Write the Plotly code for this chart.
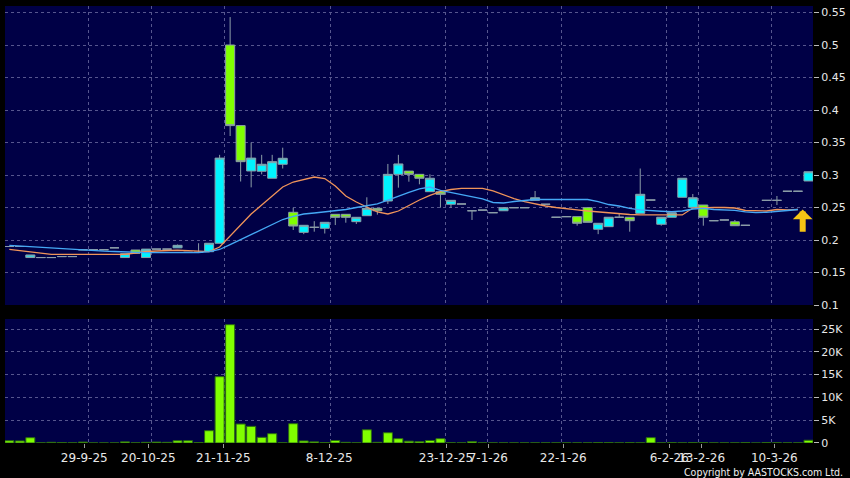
import plotly.graph_objects as go

# ---------------- data ----------------
bar_idx = list(range(77))

opens = [0.190, 0.190, 0.173, 0.173, 0.173, 0.1745, 0.1745, 0.185, 0.185, 0.185,
         0.188, 0.173, 0.1846, 0.173, 0.186, 0.186, 0.188, 0.181, 0.181, 0.182,
         0.195, 0.500, 0.376, 0.3062, 0.3057, 0.295, 0.3165, 0.2426, 0.2118, 0.2195,
         0.218, 0.2395, 0.2395, 0.2282, 0.2374, 0.2487, 0.260, 0.301, 0.306, 0.301,
         0.2743, 0.2743, 0.255, 0.2554, 0.245, 0.246, 0.242, 0.245, 0.2497, 0.2497,
         0.261, 0.255, 0.235, 0.2359, 0.2359, 0.2497, 0.2165, 0.2205, 0.235, 0.235,
         0.241, 0.2615, 0.2242, 0.235, 0.2657, 0.2503, 0.2538, 0.2297, 0.2308, 0.228,
         0.2226, None, 0.261, 0.261, 0.275, 0.275, 0.2908]
highs = [0.190, 0.190, 0.177, 0.173, 0.173, 0.1745, 0.1745, 0.185, 0.185, 0.185,
         0.188, 0.179, 0.1846, 0.186, 0.186, 0.186, 0.193, 0.181, 0.195, 0.195,
         0.331, 0.543, 0.376, 0.350, 0.331, 0.331, 0.342, 0.2497, 0.2226, 0.229,
         0.2272, 0.2395, 0.2395, 0.2349, 0.2657, 0.2487, 0.317, 0.331, 0.306, 0.301,
         0.301, 0.2743, 0.261, 0.2554, 0.245, 0.246, 0.242, 0.2497, 0.2497, 0.2497,
         0.2754, 0.255, 0.235, 0.2359, 0.2359, 0.2497, 0.2257, 0.235, 0.241, 0.235,
         0.310, 0.2615, 0.235, 0.242, 0.295, 0.2708, 0.2538, 0.2297, 0.2308, 0.2308,
         0.2226, None, 0.261, 0.2677, 0.275, 0.275, 0.305]
lows = [0.190, 0.190, 0.173, 0.173, 0.173, 0.1745, 0.1745, 0.185, 0.185, 0.185,
        0.188, 0.173, 0.1795, 0.173, 0.186, 0.186, 0.188, 0.181, 0.181, 0.182,
        0.195, 0.360, 0.290, 0.281, 0.301, 0.295, 0.310, 0.2154, 0.209, 0.2128,
        0.210, 0.223, 0.2266, 0.2246, 0.2374, 0.239, 0.2554, 0.2805, 0.2897, 0.2857,
        0.2743, 0.2497, 0.2497, 0.2554, 0.2308, 0.246, 0.242, 0.245, 0.2497, 0.2497,
        0.261, 0.255, 0.235, 0.2359, 0.222, 0.2272, 0.209, 0.2205, 0.235, 0.2128,
        0.241, 0.2615, 0.222, 0.235, 0.2657, 0.2503, 0.222, 0.2297, 0.2308, 0.222,
        0.2226, None, 0.261, 0.2538, 0.275, 0.275, 0.2908]
closes = [0.190, 0.190, 0.177, 0.173, 0.173, 0.1745, 0.1745, 0.185, 0.185, 0.185,
          0.188, 0.179, 0.1795, 0.186, 0.186, 0.186, 0.1918, 0.181, 0.181, 0.195,
          0.326, 0.376, 0.3205, 0.326, 0.3165, 0.3205, 0.3257, 0.2215, 0.2226, 0.2195,
          0.2272, 0.2349, 0.2349, 0.2349, 0.2487, 0.245, 0.301, 0.317, 0.301, 0.295,
          0.295, 0.2703, 0.261, 0.2554, 0.245, 0.246, 0.242, 0.2497, 0.2497, 0.2497,
          0.265, 0.255, 0.235, 0.2359, 0.2257, 0.2272, 0.2257, 0.235, 0.235, 0.2297,
          0.2703, 0.2615, 0.235, 0.242, 0.295, 0.265, 0.235, 0.2297, 0.2308, 0.222,
          0.2226, None, 0.261, 0.261, 0.275, 0.275, 0.305]

volumes = [500, 450, 1160, 40, 150, 100, 40, 200, 20, 20,
           20, 250, 40, 150, 200, 150, 500, 500, 100, 2700,
           14540, 25950, 4160, 3650, 1240, 2040, 40, 4230, 450, 250,
           100, 550, 150, 40, 2900, 150, 2250, 950, 400, 300,
           550, 950, 50, 30, 300, 30, 30, 30, 30, 30,
           30, 30, 30, 30, 30, 30, 100, 80, 30, 80,
           40, 1170, 30, 80, 30, 80, 80, 30, 30, 30,
           80, 0, 80, 50, 30, 30, 600]

ma_blue = [0.1918, 0.1908, 0.1897, 0.1885, 0.1872, 0.1862, 0.1851, 0.1842, 0.1834, 0.1828,
           0.1823, 0.1815, 0.1811, 0.1805, 0.1805, 0.1805, 0.1805, 0.1805, 0.1808, 0.1820,
           0.1854, 0.1930, 0.2008, 0.2092, 0.2169, 0.2238, 0.2315, 0.2362, 0.2400, 0.2415,
           0.2431, 0.2446, 0.2469, 0.2500, 0.2523, 0.2557, 0.2615, 0.2677, 0.2731, 0.2785,
           0.2815, 0.2762, 0.2731, 0.2700, 0.2662, 0.2631, 0.2577, 0.2569, 0.2592, 0.2608,
           0.2623, 0.2626, 0.2626, 0.2626, 0.2626, 0.2623, 0.2592, 0.2546, 0.2523, 0.2485,
           0.2462, 0.2449, 0.2442, 0.2435, 0.2446, 0.2477, 0.2488, 0.2469, 0.2462, 0.2457,
           0.2434, 0.2420, 0.2426, 0.2435, 0.2454, 0.2469]
ma_orange = [0.1857, 0.1838, 0.1815, 0.1792, 0.1780, 0.1780, 0.1780, 0.1780, 0.1780, 0.1780,
             0.1780, 0.1780, 0.1800, 0.1823, 0.1831, 0.1838, 0.1842, 0.1838, 0.1831, 0.1820,
             0.1892, 0.2062, 0.2238, 0.2400, 0.2538, 0.2677, 0.2815, 0.2892, 0.2931, 0.2969,
             0.2946, 0.2831, 0.2677, 0.2585, 0.2508, 0.2431, 0.2400, 0.2446, 0.2531, 0.2615,
             0.2685, 0.2743, 0.2777, 0.2795, 0.2795, 0.2795, 0.2754, 0.2692, 0.2638, 0.2592,
             0.2554, 0.2523, 0.2500, 0.2477, 0.2462, 0.2446, 0.2431, 0.2415, 0.2400, 0.2392,
             0.2385, 0.2385, 0.2385, 0.2385, 0.2385, 0.2492, 0.2500, 0.2503, 0.2500, 0.2492,
             0.2454, 0.2446, 0.2446, 0.2469, 0.2462, 0.2469]

tick_text = ["29-9-25", "20-10-25", "21-11-25", "8-12-25", "23-12-25", "7-1-26",
             "22-1-26", "6-2-26", "13-2-26", "10-3-26"]
tick_pos = [7.13, 13.22, 20.35, 30.43, 41.53, 45.55, 52.68, 62.76, 65.84, 72.75]
grid_pos = [7.5, 13.5, 20.5, 30.5, 41.5, 45.5, 52.5, 62.5, 65.5, 72.5]

price_ticks = [0.1, 0.15, 0.2, 0.25, 0.3, 0.35, 0.4, 0.45, 0.5, 0.55]
price_labels = ["0.1", "0.15", "0.2", "0.25", "0.3", "0.35", "0.4", "0.45", "0.5", "0.55"]
vol_ticks = [0, 5000, 10000, 15000, 20000, 25000]
vol_labels = ["0", "5K", "10K", "15K", "20K", "25K"]

# ---------------- styling ----------------
BG = "#000046"
GRID = "#56568e"
WICK = "#8c9ea8"
FONT = "DejaVu Sans"
XR = [-0.41, 76.43]

fig = go.Figure()
fig.add_trace(go.Candlestick(
    x=bar_idx, open=opens, high=highs, low=lows, close=closes,
    xaxis="x", yaxis="y", whiskerwidth=0,
    increasing=dict(fillcolor="#00f4ff", line=dict(color=WICK, width=1)),
    decreasing=dict(fillcolor="#80ff00", line=dict(color=WICK, width=1)),
    showlegend=False, hoverinfo="skip"))
fig.add_trace(go.Scatter(x=bar_idx[:len(ma_orange)], y=ma_orange, mode="lines",
                         line=dict(color="#f0945a", width=1.3), xaxis="x", yaxis="y",
                         showlegend=False, hoverinfo="skip"))
fig.add_trace(go.Scatter(x=bar_idx[:len(ma_blue)], y=ma_blue, mode="lines",
                         line=dict(color="#45a8f5", width=1.3), xaxis="x", yaxis="y",
                         showlegend=False, hoverinfo="skip"))
fig.add_trace(go.Bar(x=bar_idx, y=volumes, xaxis="x2", yaxis="y2",
                     marker=dict(color="#80ff00", line=dict(color="#2c6a12", width=1)),
                     showlegend=False, hoverinfo="skip"))

minor_grid = dict(tickmode="array", tickvals=grid_pos, showgrid=True, gridcolor=GRID,
                  griddash="3px,3px", gridwidth=1, ticks="")

fig.update_layout(
    width=850, height=478,
    margin=dict(l=5, r=37, t=6, b=35),
    paper_bgcolor="black", plot_bgcolor=BG,
    showlegend=False, bargap=0.14, boxgap=0.14, boxgroupgap=0,
    xaxis=dict(domain=[0, 1], range=XR, anchor="y", showticklabels=False, showgrid=False,
               zeroline=False, showline=False, rangeslider=dict(visible=False),
               tickmode="array", tickvals=tick_pos, ticks="", minor=minor_grid),
    xaxis2=dict(domain=[0, 1], range=XR, anchor="y2", matches="x", showgrid=False,
                zeroline=False, showline=False, tickmode="array", tickvals=tick_pos,
                ticktext=tick_text, ticks="outside", ticklen=4, tickcolor="#9a9a9a",
                tickangle=0,
                tickfont=dict(family=FONT, size=12, color="#e8e8e8"), minor=minor_grid),
    yaxis=dict(domain=[0.3158, 1], range=[0.1, 0.56], side="right", anchor="x",
               tickmode="array", tickvals=price_ticks, ticktext=price_labels,
               ticks="outside", ticklen=5, tickcolor="#bbbbbb", showline=False,
               tickfont=dict(family=FONT, size=11, color="#e8e8e8"),
               showgrid=True, gridcolor=GRID, griddash="3px,3px", zeroline=False),
    yaxis2=dict(domain=[0, 0.2838], range=[0, 27200], side="right", anchor="x2",
                tickmode="array", tickvals=vol_ticks, ticktext=vol_labels,
                ticks="outside", ticklen=5, tickcolor="#bbbbbb", showline=False,
                tickfont=dict(family=FONT, size=11, color="#e8e8e8"),
                showgrid=True, gridcolor=GRID, griddash="3px,3px", zeroline=False),
)

# yellow marker arrow at the latest bar
fig.add_annotation(x=75.45, y=0.247, ax=75.45, ay=0.2105, xref="x", yref="y",
                   axref="x", ayref="y", text="", showarrow=True, arrowhead=1,
                   arrowsize=0.55, arrowwidth=6, arrowcolor="#f5c414", standoff=0)

fig.add_annotation(x=(845 - 5) / 808, y=(443 - 471.5) / 437, xref="paper", yref="paper",
                   text="Copyright by AASTOCKS.com Ltd.",
                   showarrow=False, xanchor="right", yanchor="middle",
                   font=dict(family="DejaVu Sans Condensed, Liberation Sans",
                             size=10.5, color="#f0f0f0"))

fig.write_html("out.html", config={"displayModeBar": False},
               post_script="document.body.style.margin='0';document.body.style.background='black';")
